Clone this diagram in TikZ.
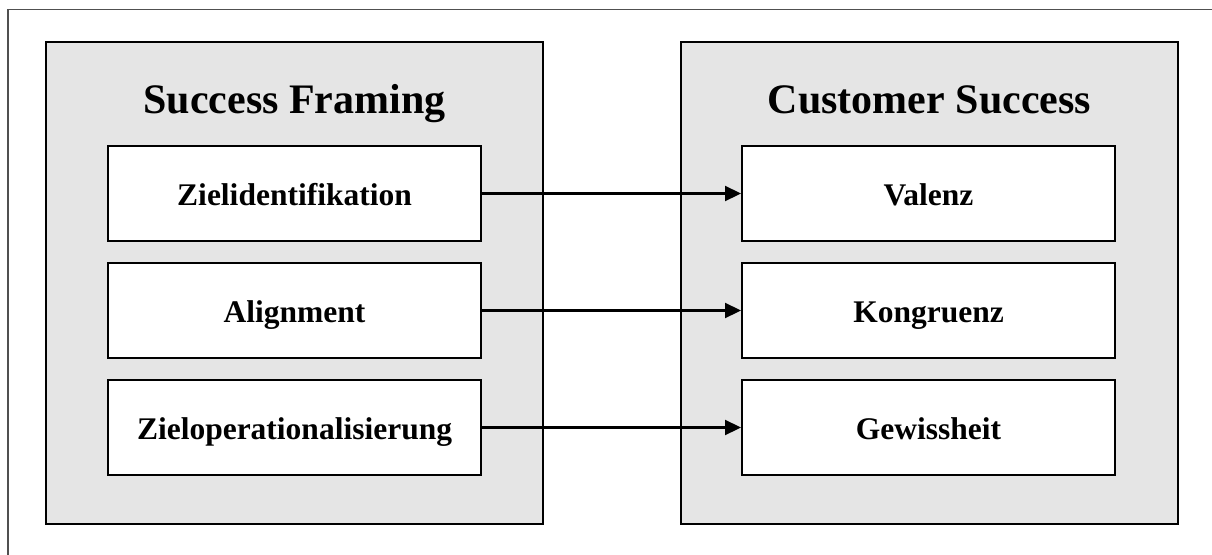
\documentclass[tikz,border=0pt]{standalone}
\usepackage{fontspec}
\setmainfont{Liberation Serif}
\usetikzlibrary{arrows.meta}
\definecolor{panelgray}{HTML}{E5E5E5}
\definecolor{framegray}{HTML}{505050}
\tikzset{
  panel/.style={draw=black, fill=panelgray, line width=2pt},
  itembox/.style={draw=black, fill=white, line width=2pt, minimum width=373pt, minimum height=95pt, inner sep=0pt, text height=23pt, text depth=0pt, font=\fontsize{31.5}{36}\selectfont\bfseries},
  paneltitle/.style={font=\fontsize{42}{48}\selectfont\bfseries, inner sep=0pt, anchor=base},
  link/.style={line width=2.2pt, -{Triangle[length=16pt,width=15pt]}}
}
\begin{document}
\begin{tikzpicture}[x=1pt,y=-1pt]
\useasboundingbox (0,0) rectangle (1212,554);
\draw[framegray, line width=1.5pt] (8,570) -- (8,9.5) -- (1230,9.5);
% panels
\draw[panel] (46,42) rectangle (543,524);
\draw[panel] (681,42) rectangle (1178,524);
\node[paneltitle] (t1) at (294.5,113) {Success Framing};
\node[paneltitle] (t2) at (929.5,113) {Customer Success};
% left boxes
\node[itembox] (l1) at (294.5,193.5) {Zielidentifikation};
\node[itembox] (l2) at (294.5,310.5) {Alignment};
\node[itembox] (l3) at (294.5,427.5) {Zieloperationalisierung};
% right boxes
\node[itembox] (r1) at (928.5,193.5) {Valenz};
\node[itembox] (r2) at (928.5,310.5) {Kongruenz};
\node[itembox] (r3) at (928.5,427.5) {Gewissheit};
% arrows
\draw[link] (l1) -- (r1);
\draw[link] (l2) -- (r2);
\draw[link] (l3) -- (r3);
\end{tikzpicture}
\end{document}
